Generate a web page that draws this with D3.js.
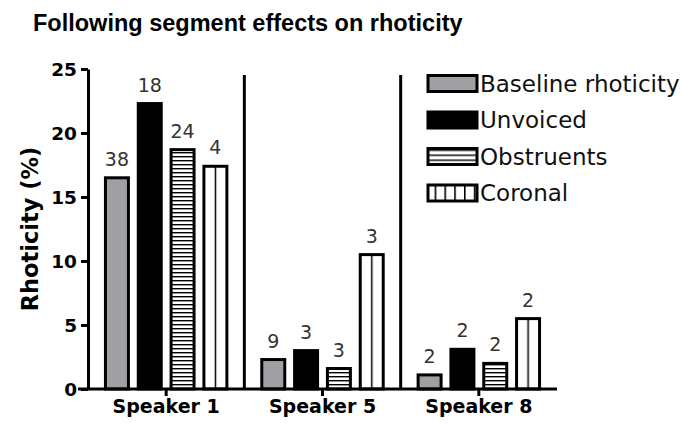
<html>
<head>
<meta charset="utf-8">
<script src="https://cdn.jsdelivr.net/npm/d3@7/dist/d3.min.js"></script>
<style>
body { margin:0; background:#fff; }
</style>
</head>
<body>
<script>
var speakers = ["Speaker 1", "Speaker 5", "Speaker 8"];
var series = ["Baseline rhoticity", "Unvoiced", "Obstruents", "Coronal"];
var baseline = [16.5, 2.3, 1.1];
var unvoiced = [22.3, 3.0, 3.1];
var obstruents = [18.7, 1.6, 2.0];
var coronal = [17.4, 10.5, 5.5];
var counts = [[38, 18, 24, 4], [9, 3, 3, 3], [2, 2, 2, 2]];
var yTicks = [0, 5, 10, 15, 20, 25];

var values = [baseline, unvoiced, obstruents, coronal];
var barFills = ["#a0a0a4", "#000", "url(#hlines)", "url(#vbar)"];
var legFills = ["#a0a0a4", "#000", "url(#hleg)", "url(#vleg)"];

var svg = d3.select("body").append("svg").attr("width", 682).attr("height", 427);
var defs = svg.append("defs");
// horizontal stripes for bars
var hp = defs.append("pattern").attr("id", "hlines").attr("patternUnits", "userSpaceOnUse")
  .attr("width", 8).attr("height", 4);
hp.append("rect").attr("width", 8).attr("height", 4).attr("fill", "#fff");
hp.append("rect").attr("width", 8).attr("height", 1.4).attr("fill", "#000");
// horizontal stripes for legend
var hl = defs.append("pattern").attr("id", "hleg").attr("patternUnits", "userSpaceOnUse")
  .attr("width", 8).attr("height", 5).attr("y", 1);
hl.append("rect").attr("width", 8).attr("height", 5).attr("fill", "#fff");
hl.append("rect").attr("width", 8).attr("height", 1.4).attr("fill", "#000");
// one vertical line per bar
var vb = defs.append("pattern").attr("id", "vbar").attr("patternUnits", "objectBoundingBox")
  .attr("patternContentUnits", "objectBoundingBox").attr("width", 1).attr("height", 1);
vb.append("rect").attr("width", 1).attr("height", 1).attr("fill", "#fff");
vb.append("rect").attr("x", 0.47).attr("width", 0.065).attr("height", 1).attr("fill", "#000");
// vertical cells for legend
var vl = defs.append("pattern").attr("id", "vleg").attr("patternUnits", "userSpaceOnUse")
  .attr("width", 9.8).attr("height", 8).attr("x", 428);
vl.append("rect").attr("width", 9.8).attr("height", 8).attr("fill", "#fff");
vl.append("rect").attr("x", 0).attr("width", 1.6).attr("height", 8).attr("fill", "#000");

var x = d3.scaleBand().domain(speakers).range([88, 557]);
var xs = d3.scaleBand().domain(series).range([-64, 64]).paddingInner(0.3).paddingOuter(0.1);
var y = d3.scaleLinear().domain([0, 25]).range([389, 69]);

svg.append("text").attr("x", 33).attr("y", 31)
  .style("font-family", "Liberation Sans, Arial").style("font-size", "23.5px").style("font-weight", "bold")
  .text("Following segment effects on rhoticity");

// bars
speakers.forEach(function(sp, i) {
  var g = svg.append("g").attr("transform", "translate(" + (x(sp) + x.bandwidth() / 2) + ",0)");
  series.forEach(function(s, j) {
    var v = values[j][i];
    g.append("rect")
      .attr("x", xs(s)).attr("y", y(v))
      .attr("width", xs.bandwidth()).attr("height", y(0) - y(v))
      .attr("fill", barFills[j]).attr("stroke", "#000").attr("stroke-width", 3);
    g.append("text")
      .attr("x", xs(s) + xs.bandwidth() / 2).attr("y", y(v) - 12)
      .attr("text-anchor", "middle").attr("fill", "#333")
      .style("font-family", "DejaVu Sans").style("font-size", "19px")
      .text(counts[i][j]);
  });
});

// dividers
[1, 2].forEach(function(i) {
  svg.append("line").attr("x1", x(speakers[i])).attr("x2", x(speakers[i]))
    .attr("y1", 75).attr("y2", y(0)).attr("stroke", "#000").attr("stroke-width", 3);
});

// axes
var ya = svg.append("g").attr("transform", "translate(88,0)")
  .call(d3.axisLeft(y).tickValues(yTicks).tickSize(7).tickSizeOuter(0));
ya.select(".domain").attr("stroke-width", 3);
ya.selectAll(".tick line").attr("stroke-width", 3);
ya.selectAll(".tick text").attr("fill", "#000").attr("x", -11).attr("dy", "0.36em")
  .style("font-family", "DejaVu Sans").style("font-size", "18.5px").style("font-weight", "bold");

var xa = svg.append("g").attr("transform", "translate(0," + y(0) + ")")
  .call(d3.axisBottom(x).tickSize(7).tickSizeOuter(0));
xa.select(".domain").attr("stroke-width", 3).attr("d", "M78,0H557");
xa.selectAll(".tick line").attr("stroke-width", 3);
xa.selectAll(".tick text").attr("fill", "#000").attr("y", 24).attr("dy", 0)
  .style("font-family", "DejaVu Sans").style("font-size", "19px").style("font-weight", "bold");

svg.append("text").attr("transform", "translate(38," + y(12.5) + ") rotate(-90)")
  .attr("text-anchor", "middle")
  .style("font-family", "DejaVu Sans").style("font-size", "22.5px").style("font-weight", "bold")
  .text("Rhoticity (%)");

// legend
var lg = svg.append("g").attr("transform", "translate(428,75.5)");
series.forEach(function(s, j) {
  var row = lg.append("g").attr("transform", "translate(0," + (j * 36.5) + ")");
  row.append("rect").attr("width", 49).attr("height", 16)
    .attr("fill", legFills[j]).attr("stroke", "#000").attr("stroke-width", 3);
  row.append("text").attr("x", 52).attr("y", 16).attr("fill", "#111")
    .style("font-family", "DejaVu Sans").style("font-size", "23px")
    .text(s);
});
</script>
</body>
</html>
